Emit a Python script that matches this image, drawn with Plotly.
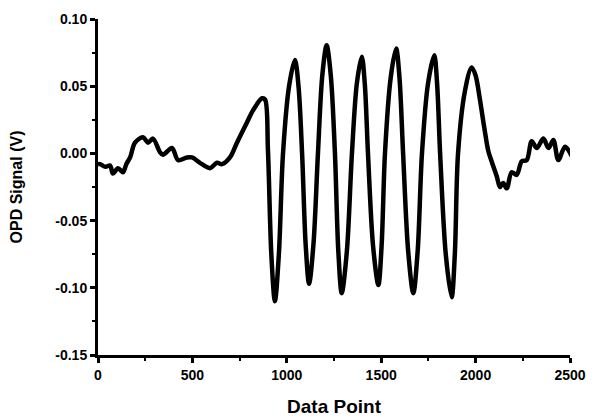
import plotly.graph_objects as go

data_point = [0, 11, 40, 64, 79, 106, 132, 150, 170, 196, 238, 265, 291, 328, 344, 392, 424, 471, 498, 540,
              593, 630, 657, 699, 736, 789, 821, 869, 885, 900, 918, 937, 958, 980, 1012, 1043, 1062, 1081,
              1100, 1118, 1141, 1165, 1188, 1211, 1233, 1255, 1273, 1291, 1318, 1345, 1371, 1397, 1413,
              1430, 1457, 1485, 1502, 1520, 1550, 1579, 1597, 1616, 1643, 1670, 1693, 1716, 1748, 1781,
              1796, 1812, 1842, 1873, 1890, 1907, 1943, 1979, 2000, 2023, 2045, 2067, 2085, 2112, 2129,
              2146, 2165, 2191, 2218, 2244, 2271, 2297, 2324, 2359, 2386, 2412, 2438, 2474, 2509]
opd_signal = [-0.008, -0.008, -0.010, -0.009, -0.015, -0.011, -0.014, -0.008, -0.003, 0.008, 0.012, 0.008,
              0.011, 0.001, -0.001, 0.004, -0.005, -0.003, -0.003, -0.007, -0.011, -0.007, -0.008, -0.003,
              0.008, 0.023, 0.032, 0.041, 0.040, 0.003, -0.075, -0.110, -0.075, 0.000, 0.050, 0.0695, 0.050,
              0.000, -0.068, -0.097, -0.068, 0.000, 0.058, 0.0805, 0.058, 0.000, -0.073, -0.104, -0.073,
              0.000, 0.052, 0.072, 0.052, 0.000, -0.069, -0.098, -0.069, 0.000, 0.056, 0.078, 0.056, 0.000,
              -0.073, -0.104, -0.073, 0.000, 0.052, 0.073, 0.052, 0.000, -0.075, -0.107, -0.075, 0.000,
              0.046, 0.064, 0.058, 0.040, 0.020, 0.002, -0.006, -0.017, -0.025, -0.022, -0.026, -0.014,
              -0.016, -0.006, -0.005, 0.009, 0.004, 0.011, 0.004, 0.010, -0.005, 0.005, -0.002]

x_ticks = [0, 500, 1000, 1500, 2000, 2500]
y_ticks = [-0.15, -0.10, -0.05, 0.00, 0.05, 0.10]
y_tick_labels = ["-0.15", "-0.10", "-0.05", "0.00", "0.05", "0.10"]

FONT = "Liberation Sans"

fig = go.Figure()
fig.add_trace(go.Scatter(
    x=data_point, y=opd_signal, mode="lines",
    line=dict(color="black", width=4.5, shape="spline", smoothing=0.9),
    hoverinfo="skip", showlegend=False, cliponaxis=False,
))

# page body has an 8px margin, so the figure is 8px smaller and margins shifted
fig.update_layout(
    width=588, height=412,
    margin=dict(l=90, r=26, t=11, b=65),
    paper_bgcolor="white", plot_bgcolor="white",
    font=dict(family=FONT, color="black"),
)
fig.update_xaxes(
    range=[0, 2500], tickvals=x_ticks, ticktext=[str(v) for v in x_ticks],
    showgrid=False, zeroline=False, automargin=False,
    showline=True, linecolor="black", linewidth=3,
    ticks="outside", ticklen=5, tickwidth=2.5, tickcolor="black",
    minor=dict(dtick=250, ticks="outside", ticklen=3, tickwidth=2, tickcolor="black"),
    tickfont=dict(family=FONT, size=14, color="black", weight="bold"),
    title=dict(text="<b>Data Point</b>", font=dict(family=FONT, size=19, color="black"), standoff=18),
)
fig.update_yaxes(
    range=[-0.15, 0.10], tickvals=y_ticks, ticktext=y_tick_labels,
    showgrid=False, zeroline=False, automargin=False,
    showline=True, linecolor="black", linewidth=3,
    ticks="outside", ticklen=5, tickwidth=2.5, tickcolor="black",
    minor=dict(dtick=0.025, ticks="outside", ticklen=3, tickwidth=2, tickcolor="black"),
    tickfont=dict(family=FONT, size=14, color="black", weight="bold"),
    title=dict(text="<b>OPD Signal (V)</b>", font=dict(family=FONT, size=16, color="black"), standoff=36),
)

fig.write_html("out.html")
